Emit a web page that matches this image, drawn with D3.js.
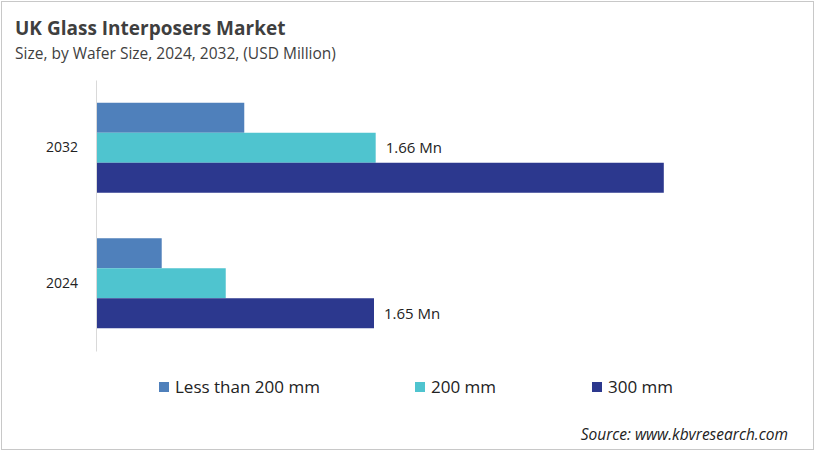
<!DOCTYPE html>
<html>
<head>
<meta charset="utf-8">
<script src="https://cdn.jsdelivr.net/npm/d3@7"></script>
<style>
  body { margin: 0; background: #fff; }
  svg { display: block; font-family: "Open Sans", sans-serif; }
</style>
</head>
<body>
<svg id="svg1" width="817" height="452"></svg>
<script>
// data
var years = ['2032', '2024'];
var sizes = ['Less than 200 mm', '200 mm', '300 mm'];
var values2032 = [0.88, 1.66, 3.37];
var values2024 = [0.39, 0.77, 1.65];
var labels2032 = [null, '1.66 Mn', null];
var labels2024 = [null, null, '1.65 Mn'];
var colors = ['#4F80BB', '#4FC4CF', '#2C388E'];

var width = 817, height = 452;
var svg = d3.select('#svg1');

// outer frame
svg.append('rect')
    .attr('x', 1.5).attr('y', 1.5)
    .attr('width', width - 5).attr('height', height - 4)
    .attr('fill', 'none').attr('stroke', '#c8c8c8').attr('stroke-width', 1);

svg.append('text')
    .attr('x', 15).attr('y', 35)
    .attr('font-size', 19).attr('font-weight', 'bold').attr('fill', '#3f3f3f')
    .text('UK Glass Interposers Market');

svg.append('text')
    .attr('x', 15).attr('y', 59)
    .attr('font-size', 15.5).attr('fill', '#3f3f3f')
    .text('Size, by Wafer Size, 2024, 2032, (USD Million)');

var marginLeft = 96, plotTop = 80, plotBottom = 351;

var rows = years.map(function(y, i) {
    var vals = i === 0 ? values2032 : values2024;
    var labs = i === 0 ? labels2032 : labels2024;
    return { year: y, bars: sizes.map(function(s, j) {
        return { size: s, value: vals[j], label: labs[j], color: colors[j] };
    }) };
});

var scaleX = d3.scaleLinear().domain([0, 1.65]).range([0, 278]);
var scaleY = d3.scaleBand().domain(years).range([plotTop, plotBottom]).paddingInner(0).paddingOuter(0);
var scaleInner = d3.scaleBand().domain(sizes).range([0, 90]);

var g = svg.append('g').attr('transform', 'translate(' + marginLeft + ',0)');

var groups = g.selectAll('.year')
    .data(rows)
    .enter()
    .append('g')
    .attr('class', 'year')
    .attr('transform', function(d) {
        return 'translate(0,' + (scaleY(d.year) + (scaleY.bandwidth() - 90) / 2) + ')';
    });

groups.selectAll('rect')
    .data(function(d) { return d.bars; })
    .enter()
    .append('rect')
    .attr('x', 0)
    .attr('y', function(d) { return scaleInner(d.size); })
    .attr('width', function(d) { return scaleX(d.value); })
    .attr('height', scaleInner.bandwidth())
    .attr('fill', function(d) { return d.color; });

groups.selectAll('.val')
    .data(function(d) { return d.bars.filter(function(b) { return b.label; }); })
    .enter()
    .append('text')
    .attr('class', 'val')
    .attr('x', function(d) { return scaleX(d.value) + 10; })
    .attr('y', function(d) { return scaleInner(d.size) + scaleInner.bandwidth() / 2; })
    .attr('dy', '0.35em')
    .attr('font-size', 15).attr('fill', '#222')
    .text(function(d) { return d.label; });

// y axis: just a light line and the year labels
var axis = g.append('g').call(d3.axisLeft(scaleY).tickSize(0).tickPadding(18));
axis.select('.domain').attr('stroke', '#d9d9d9');
axis.selectAll('text').attr('font-size', 14).attr('fill', '#222')
    .attr('font-family', '"Open Sans", sans-serif');

// legend
var legendX = [159, 415, 592];
var legend = svg.selectAll('.legend')
    .data(sizes)
    .enter()
    .append('g')
    .attr('class', 'legend')
    .attr('transform', function(d, i) { return 'translate(' + legendX[i] + ',382)'; });

legend.append('rect')
    .attr('width', 10).attr('height', 10)
    .attr('fill', function(d, i) { return colors[i]; });

legend.append('text')
    .attr('x', 16).attr('y', 5).attr('dy', '0.35em')
    .attr('font-size', 17).attr('fill', '#222')
    .text(function(d) { return d; });

svg.append('text')
    .attr('x', 788).attr('y', 440)
    .attr('text-anchor', 'end')
    .attr('font-size', 15.5).attr('font-style', 'italic').attr('fill', '#222')
    .text('Source: www.kbvresearch.com');
</script>
</body>
</html>
